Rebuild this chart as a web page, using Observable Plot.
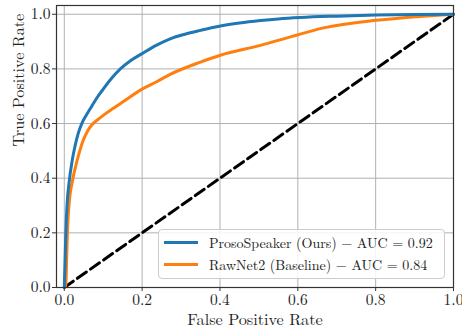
<!DOCTYPE html>
<html>
<head>
<meta charset="utf-8">
<script src="https://cdn.jsdelivr.net/npm/d3@7"></script>
<script src="https://cdn.jsdelivr.net/npm/@observablehq/plot@0.6"></script>
<style>
  body { margin: 0; background: white; }
  #wrap { position: relative; width: 462px; height: 329px; color: #222; }
  #legend { position: absolute; left: 158px; top: 229px; width: 285px; height: 48px; border: 1px solid #cccccc; border-radius: 4px; background: rgba(255,255,255,0.85); }
  .row { position: absolute; left: 0; height: 20px; display: flex; align-items: center; white-space: nowrap; }
  .swatch { width: 34px; height: 3px; margin-left: 5px; margin-right: 11px; }
</style>
</head>
<body>
<div id="wrap"></div>
<script>
const seriesNames = ["ProsoSpeaker (Ours) \u2212 AUC = 0.92", "RawNet2 (Baseline) \u2212 AUC = 0.84"];
const seriesColors = ["#1f77b4", "#ff7f0e"];

const prosoFpr = [0, 0.001, 0.002, 0.004, 0.007, 0.012, 0.021, 0.028, 0.036, 0.045, 0.055, 0.067, 0.082, 0.097, 0.12, 0.144, 0.17, 0.2, 0.236, 0.272, 0.31, 0.35, 0.401, 0.45, 0.504, 0.55, 0.607, 0.7, 0.8, 0.9, 1.0];
const prosoTpr = [0, 0.05, 0.10, 0.20, 0.30, 0.38, 0.47, 0.52, 0.565, 0.60, 0.627, 0.655, 0.69, 0.72, 0.763, 0.80, 0.83, 0.856, 0.886, 0.91, 0.927, 0.941, 0.957, 0.968, 0.977, 0.983, 0.988, 0.993, 0.997, 0.999, 1.0];

const rawFpr = [0, 0.004, 0.006, 0.008, 0.012, 0.021, 0.033, 0.044, 0.052, 0.06, 0.07, 0.085, 0.101, 0.125, 0.151, 0.2, 0.236, 0.272, 0.35, 0.401, 0.504, 0.581, 0.666, 0.802, 0.923, 1.0];
const rawTpr = [0, 0.01, 0.10, 0.20, 0.30, 0.39, 0.465, 0.52, 0.55, 0.573, 0.594, 0.613, 0.631, 0.655, 0.68, 0.726, 0.752, 0.78, 0.825, 0.85, 0.886, 0.917, 0.95, 0.978, 0.993, 1.0];

const chanceFpr = [0, 1];
const chanceTpr = [0, 1];

const xTicks = [0, 0.2, 0.4, 0.6, 0.8, 1.0];
const yTicks = [0, 0.2, 0.4, 0.6, 0.8, 1.0];
const xLabel = "False Positive Rate";
const yLabel = "True Positive Rate";

const FONT = "'Latin Modern Roman', 'CMU Serif', 'TeX Gyre Termes', 'FreeSerif', 'Nimbus Roman', 'Tinos', 'Georgia'";
const proso = prosoFpr.map((x, i) => ({x, y: prosoTpr[i]}));
const raw = rawFpr.map((x, i) => ({x, y: rawTpr[i]}));
const chance = chanceFpr.map((x, i) => ({x, y: chanceTpr[i]}));
const fmt = d3.format(".1f");

const chart = Plot.plot({
  width: 462,
  height: 329,
  marginLeft: 56,
  marginRight: 9,
  marginTop: 5,
  marginBottom: 42,
  style: {fontFamily: FONT, fontSize: "15px", color: "#222", background: "white", overflow: "visible"},
  x: {domain: [-0.02, 1.0]},
  y: {domain: [0, 1.032]},
  marks: [
    Plot.gridX(xTicks, {stroke: "#b0b0b0", strokeOpacity: 1, strokeWidth: 1}),
    Plot.gridY(yTicks, {stroke: "#b0b0b0", strokeOpacity: 1, strokeWidth: 1}),
    Plot.line(chance, {x: "x", y: "y", stroke: "black", strokeWidth: 3, strokeDasharray: "11,5"}),
    Plot.line(raw, {x: "x", y: "y", stroke: seriesColors[1], strokeWidth: 3, curve: "monotone-x"}),
    Plot.line(proso, {x: "x", y: "y", stroke: seriesColors[0], strokeWidth: 3, curve: "monotone-x"}),
    Plot.frame({stroke: "#333", strokeWidth: 1.2}),
    Plot.axisX(xTicks, {tickSize: 4, tickPadding: 2, tickFormat: fmt, fontSize: 15.5, label: null, stroke: "#333", fontFamily: FONT}),
    Plot.axisY(yTicks, {tickSize: 4, tickPadding: 2, tickFormat: fmt, fontSize: 15.5, label: null, stroke: "#333", fontFamily: FONT}),
    Plot.text([xLabel], {text: d => d, frameAnchor: "bottom", dy: 32, fontSize: 16.2, lineAnchor: "middle", fill: "#222", fontFamily: FONT}),
    Plot.text([yLabel], {text: d => d, frameAnchor: "left", dx: -38, rotate: -90, fontSize: 16.2, lineAnchor: "middle", fill: "#222", fontFamily: FONT})
  ]
});

const wrap = document.getElementById("wrap");
wrap.appendChild(chart);

const legend = document.createElement("div");
legend.id = "legend";
seriesNames.forEach((name, i) => {
  const row = document.createElement("div");
  row.className = "row";
  row.style.top = (i === 0 ? 2 : 24) + "px";
  const sw = document.createElement("div");
  sw.className = "swatch";
  sw.style.background = seriesColors[i];
  const label = document.createElement("span");
  label.textContent = name;
  label.style.fontFamily = FONT;
  label.style.fontSize = "14px";
  row.appendChild(sw);
  row.appendChild(label);
  legend.appendChild(row);
});
wrap.appendChild(legend);
</script>
</body>
</html>
